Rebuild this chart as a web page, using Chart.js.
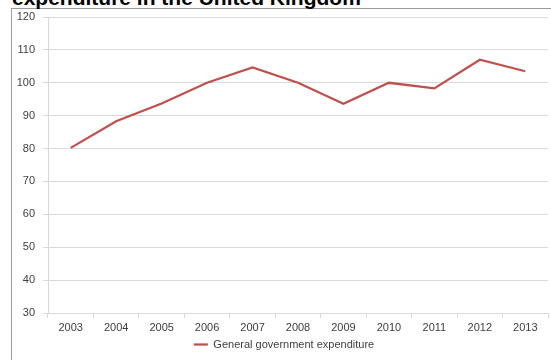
<!DOCTYPE html>
<html>
<head>
<meta charset="utf-8">
<script src="https://cdn.jsdelivr.net/npm/chart.js@4"></script>
<style>
  html, body { margin: 0; padding: 0; background: #fff; overflow: hidden; }
  #wrap { position: relative; width: 551px; height: 360px; overflow: hidden; }
  #frame { position: absolute; left: 11px; top: 8px; width: 600px; height: 400px; border: 1px solid #9a9a9a; box-sizing: border-box; }
  #title { position: absolute; left: 12px; top: -13px; font: bold 21px "Liberation Sans", Arial, sans-serif; line-height: 21px; color: #000; white-space: nowrap; }
  #c { position: absolute; left: 0; top: 0; }
</style>
</head>
<body>
<div id="wrap">
  <div id="frame"></div>
  <div id="title">expenditure in the United Kingdom</div>
  <canvas id="c" width="551" height="360"></canvas>
</div>
<script>
const categories = ["2003","2004","2005","2006","2007","2008","2009","2010","2011","2012","2013"];
const expenditure = [80.2, 88.3, 93.7, 100.0, 104.7, 100.0, 93.6, 100.0, 98.3, 107.0, 103.5];
const seriesName = "General government expenditure";
const yMin = 30, yMax = 120, yStep = 10;

const gridColor = "#d9d9d9";
const textColor = "#404040";
const font = { family: "'Liberation Sans', Arial, sans-serif", size: 11 };

const shiftLegend = {
  id: "shiftLegend",
  afterLayout(chart) {
    const lg = chart.legend;
    if (lg) { lg.left += 10; lg.right += 10; }
  }
};

new Chart(document.getElementById("c"), {
  type: "line",
  data: {
    labels: categories,
    datasets: [{
      label: seriesName,
      data: expenditure,
      borderColor: "#c0504d",
      backgroundColor: "#c0504d",
      borderWidth: 2.25,
      pointRadius: 0,
      tension: 0,
      fill: false
    }]
  },
  plugins: [shiftLegend],
  options: {
    responsive: false,
    animation: false,
    devicePixelRatio: 1,
    layout: { padding: { left: 0, right: 3, top: 17, bottom: 0 } },
    plugins: {
      title: { display: false },
      tooltip: { enabled: false },
      legend: {
        position: "bottom",
        labels: {
          usePointStyle: true,
          pointStyle: "line",
          pointStyleWidth: 14,
          boxHeight: 11,
          padding: 5,
          color: textColor,
          font: font
        }
      }
    },
    scales: {
      x: {
        offset: true,
        grid: { offset: true, drawOnChartArea: false, drawTicks: true, tickLength: 5, color: gridColor },
        border: { display: true, color: gridColor },
        ticks: { color: textColor, font: font, padding: 3, maxRotation: 0, autoSkip: false },
        afterFit: (s) => { s.height = 21; }
      },
      y: {
        min: yMin, max: yMax,
        grid: { color: gridColor, tickLength: 5, drawTicks: true },
        border: { display: true, color: gridColor },
        ticks: { stepSize: yStep, color: textColor, font: font, padding: 8 },
        afterFit: (s) => { s.width = 48; }
      }
    }
  }
});
</script>
</body>
</html>
